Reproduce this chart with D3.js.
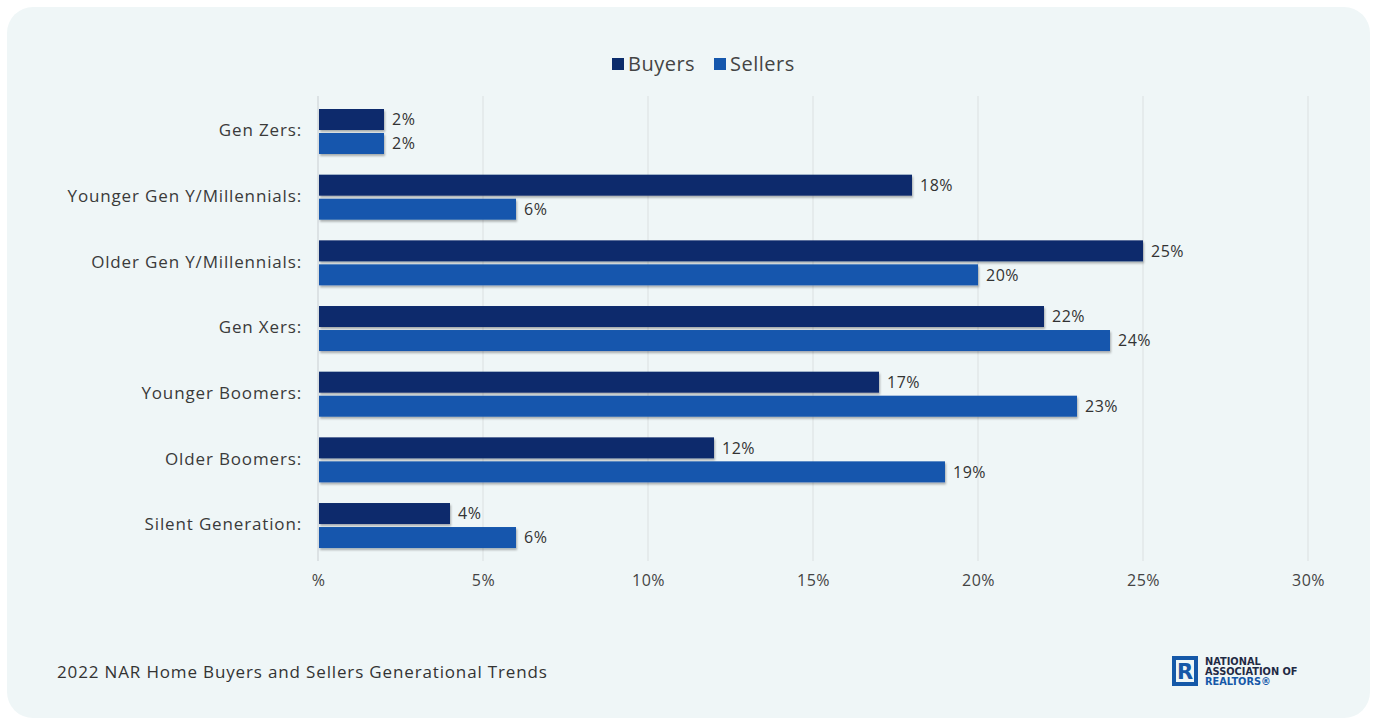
<!DOCTYPE html>
<html><head><meta charset="utf-8">
<script src="https://cdn.jsdelivr.net/npm/d3@7"></script>
<style>body{margin:0;background:#fff;}svg{display:block;}</style>
</head><body>
<svg id="c" width="1377" height="725"></svg>
<script>
const categories = ["Gen Zers:", "Younger Gen Y/Millennials:", "Older Gen Y/Millennials:", "Gen Xers:", "Younger Boomers:", "Older Boomers:", "Silent Generation:"];
const buyers = [2, 18, 25, 22, 17, 12, 4];
const sellers = [2, 6, 20, 24, 23, 19, 6];
const seriesNames = ["Buyers", "Sellers"];
const tickValues = [0, 5, 10, 15, 20, 25, 30];
const tickLabels = ["%", "5%", "10%", "15%", "20%", "25%", "30%"];
const title = "2022 NAR Home Buyers and Sellers Generational Trends";
const colors = ["#0b2c6c", "#1557ad"];

const font = "'Open Sans', 'Noto Sans', sans-serif";
const svg = d3.select("#c");
const defs = svg.append("defs");
const f = defs.append("filter").attr("id","sh").attr("x","-5%").attr("y","-20%").attr("width","110%").attr("height","160%");
f.append("feDropShadow").attr("dx",1).attr("dy",2).attr("stdDeviation",1.2).attr("flood-color","#000").attr("flood-opacity",0.3);

svg.append("rect").attr("x",7).attr("y",7).attr("width",1363).attr("height",711).attr("rx",26).attr("fill","#eff6f7");

const x = d3.scaleLinear().domain([0,30]).range([318,1308]);
const y = d3.scaleBand().domain(categories).range([98, 98+7*65.67]);
const barH = 21, gap = 3, off = 11;

// grid
svg.append("g").selectAll("line").data(tickValues.slice(1)).join("line")
  .attr("x1",d=>x(d)).attr("x2",d=>x(d)).attr("y1",96).attr("y2",561)
  .attr("stroke","#dce2e4").attr("stroke-width",1.1);
svg.append("line").attr("x1",x(0)).attr("x2",x(0)).attr("y1",96).attr("y2",561).attr("stroke","#cfd6d8").attr("stroke-width",1.2);

// x axis
const xa = svg.append("g").attr("transform","translate(0,572)").call(d3.axisBottom(x).tickValues(tickValues).tickFormat((d,i)=>tickLabels[i]).tickSize(0));
xa.select(".domain").remove();
xa.selectAll("text").attr("font-family",font).attr("font-size",16).attr("letter-spacing",0.5).attr("fill","#444").attr("dy","0.71em");

// y axis labels
const ya = svg.append("g").attr("transform","translate(302,0)").call(d3.axisLeft(y).tickSize(0));
ya.select(".domain").remove();
ya.selectAll("text").attr("font-family",font).attr("font-size",17).attr("letter-spacing",0.85).attr("fill","#3a3a3a").attr("x",0);

const data = [buyers, sellers];
data.forEach((vals,si)=>{
  const g = svg.append("g");
  g.selectAll("rect").data(vals).join("rect")
    .attr("x",x(0)+1).attr("y",(d,i)=>y(categories[i])+off+si*(barH+gap))
    .attr("width",d=>x(d)-x(0)-1).attr("height",barH)
    .attr("fill",colors[si]).attr("filter","url(#sh)");
  g.selectAll("text").data(vals).join("text")
    .attr("x",d=>x(d)+8).attr("y",(d,i)=>y(categories[i])+off+si*(barH+gap)+barH/2)
    .attr("dy","0.36em").attr("font-family",font).attr("font-size",16).attr("letter-spacing",0.5).attr("fill","#333")
    .text(d=>d+"%");
});

// legend
const lg = svg.append("g");
const lx = [612, 714];
seriesNames.forEach((n,i)=>{
  lg.append("rect").attr("x",lx[i]).attr("y",58).attr("width",12).attr("height",12).attr("fill",colors[i]);
  lg.append("text").attr("x",lx[i]+16).attr("y",64).attr("dy","0.36em").attr("font-family",font).attr("font-size",20).attr("letter-spacing",0.5).attr("fill","#444").text(n);
});

// title
svg.append("text").attr("x",57).attr("y",672).attr("dy","0.36em").attr("font-family",font).attr("font-size",17).attr("letter-spacing",0.85).attr("fill","#333").text(title);

// logo
const logo = svg.append("g").attr("transform","translate(1172,656)");
logo.append("rect").attr("x",0).attr("y",0).attr("width",26).attr("height",30).attr("fill","#1558a8");
logo.append("rect").attr("x",4).attr("y",4).attr("width",18).attr("height",22).attr("fill","#eff6f7");
logo.append("text").attr("x",13).attr("y",23).attr("text-anchor","middle").attr("font-family","'DejaVu Sans', sans-serif").attr("font-weight","bold").attr("font-size",21).attr("fill","#1558a8").text("R");
const lt = ["NATIONAL","ASSOCIATION OF","REALTORS®"];
lt.forEach((t,i)=>{
  logo.append("text").attr("x",33).attr("y",9+i*10).attr("font-family","'DejaVu Sans', sans-serif").attr("font-weight","bold").attr("font-size",9.8).attr("fill",i==2?"#1558a8":"#1f2a44").text(t);
});
</script>
</body></html>
